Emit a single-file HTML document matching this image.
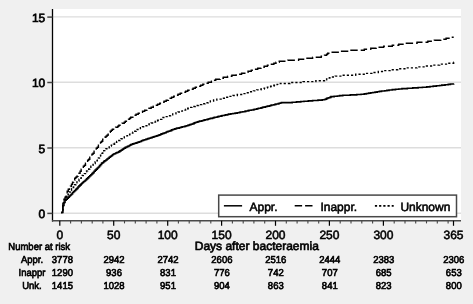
<!DOCTYPE html>
<html><head><meta charset="utf-8"><title>Cumulative mortality</title>
<style>
html,body{margin:0;padding:0;background:#f0f0f0;}
body{width:473px;height:304px;overflow:hidden;}
svg{display:block;text-rendering:geometricPrecision;font-family:"Liberation Sans",sans-serif;fill:#000;}
.ax{font-size:12px;stroke:#000;stroke-width:0.55px;}
.tb{font-size:9.5px;stroke:#000;stroke-width:0.6px;}
</style></head><body>
<svg width="473" height="304" viewBox="0 0 473 304">
<rect x="0" y="0" width="473" height="304" fill="#f0f0f0"/>
<rect x="52" y="9" width="409" height="211.8" fill="#fff"/>
<line x1="53" x2="461" y1="213.2" y2="213.2" stroke="#dddddd" stroke-width="1.4"/>
<line x1="53" x2="461" y1="147.8" y2="147.8" stroke="#dddddd" stroke-width="1.4"/>
<line x1="53" x2="461" y1="82.3" y2="82.3" stroke="#dddddd" stroke-width="1.4"/>
<line x1="53" x2="461" y1="16.9" y2="16.9" stroke="#dddddd" stroke-width="1.4"/>
<line x1="52.5" x2="52.5" y1="9" y2="221.6" stroke="#000" stroke-width="1.3"/>
<line x1="52" x2="461" y1="220.8" y2="220.8" stroke="#4a4a4a" stroke-width="1.6"/>
<line x1="47.3" x2="52.5" y1="213.4" y2="213.4" stroke="#444" stroke-width="1.5"/>
<text class="ax" x="45.3" y="218.1" text-anchor="end" style="stroke-width:0.7px">0</text>
<line x1="47.3" x2="52.5" y1="148.0" y2="148.0" stroke="#444" stroke-width="1.5"/>
<text class="ax" x="45.3" y="152.7" text-anchor="end" style="stroke-width:0.7px">5</text>
<line x1="47.3" x2="52.5" y1="82.5" y2="82.5" stroke="#444" stroke-width="1.5"/>
<text class="ax" x="45.3" y="87.2" text-anchor="end" style="stroke-width:0.7px">10</text>
<line x1="47.3" x2="52.5" y1="17.1" y2="17.1" stroke="#444" stroke-width="1.5"/>
<text class="ax" x="45.3" y="21.8" text-anchor="end" style="stroke-width:0.7px">15</text>
<line x1="59.8" x2="59.8" y1="220.8" y2="225.8" stroke="#000" stroke-width="1.2"/>
<line x1="70.6" x2="70.6" y1="220.8" y2="223.4" stroke="#444" stroke-width="1.1"/>
<line x1="81.4" x2="81.4" y1="220.8" y2="223.4" stroke="#444" stroke-width="1.1"/>
<line x1="92.2" x2="92.2" y1="220.8" y2="223.4" stroke="#444" stroke-width="1.1"/>
<line x1="102.9" x2="102.9" y1="220.8" y2="223.4" stroke="#444" stroke-width="1.1"/>
<line x1="113.7" x2="113.7" y1="220.8" y2="225.8" stroke="#000" stroke-width="1.2"/>
<line x1="124.5" x2="124.5" y1="220.8" y2="223.4" stroke="#444" stroke-width="1.1"/>
<line x1="135.3" x2="135.3" y1="220.8" y2="223.4" stroke="#444" stroke-width="1.1"/>
<line x1="146.1" x2="146.1" y1="220.8" y2="223.4" stroke="#444" stroke-width="1.1"/>
<line x1="156.9" x2="156.9" y1="220.8" y2="223.4" stroke="#444" stroke-width="1.1"/>
<line x1="167.7" x2="167.7" y1="220.8" y2="225.8" stroke="#000" stroke-width="1.2"/>
<line x1="178.4" x2="178.4" y1="220.8" y2="223.4" stroke="#444" stroke-width="1.1"/>
<line x1="189.2" x2="189.2" y1="220.8" y2="223.4" stroke="#444" stroke-width="1.1"/>
<line x1="200.0" x2="200.0" y1="220.8" y2="223.4" stroke="#444" stroke-width="1.1"/>
<line x1="210.8" x2="210.8" y1="220.8" y2="223.4" stroke="#444" stroke-width="1.1"/>
<line x1="221.6" x2="221.6" y1="220.8" y2="225.8" stroke="#000" stroke-width="1.2"/>
<line x1="232.4" x2="232.4" y1="220.8" y2="223.4" stroke="#444" stroke-width="1.1"/>
<line x1="243.2" x2="243.2" y1="220.8" y2="223.4" stroke="#444" stroke-width="1.1"/>
<line x1="253.9" x2="253.9" y1="220.8" y2="223.4" stroke="#444" stroke-width="1.1"/>
<line x1="264.7" x2="264.7" y1="220.8" y2="223.4" stroke="#444" stroke-width="1.1"/>
<line x1="275.5" x2="275.5" y1="220.8" y2="225.8" stroke="#000" stroke-width="1.2"/>
<line x1="286.3" x2="286.3" y1="220.8" y2="223.4" stroke="#444" stroke-width="1.1"/>
<line x1="297.1" x2="297.1" y1="220.8" y2="223.4" stroke="#444" stroke-width="1.1"/>
<line x1="307.9" x2="307.9" y1="220.8" y2="223.4" stroke="#444" stroke-width="1.1"/>
<line x1="318.7" x2="318.7" y1="220.8" y2="223.4" stroke="#444" stroke-width="1.1"/>
<line x1="329.4" x2="329.4" y1="220.8" y2="225.8" stroke="#000" stroke-width="1.2"/>
<line x1="340.2" x2="340.2" y1="220.8" y2="223.4" stroke="#444" stroke-width="1.1"/>
<line x1="351.0" x2="351.0" y1="220.8" y2="223.4" stroke="#444" stroke-width="1.1"/>
<line x1="361.8" x2="361.8" y1="220.8" y2="223.4" stroke="#444" stroke-width="1.1"/>
<line x1="372.6" x2="372.6" y1="220.8" y2="223.4" stroke="#444" stroke-width="1.1"/>
<line x1="383.4" x2="383.4" y1="220.8" y2="225.8" stroke="#000" stroke-width="1.2"/>
<line x1="394.2" x2="394.2" y1="220.8" y2="223.4" stroke="#444" stroke-width="1.1"/>
<line x1="405.0" x2="405.0" y1="220.8" y2="223.4" stroke="#444" stroke-width="1.1"/>
<line x1="415.7" x2="415.7" y1="220.8" y2="223.4" stroke="#444" stroke-width="1.1"/>
<line x1="426.5" x2="426.5" y1="220.8" y2="223.4" stroke="#444" stroke-width="1.1"/>
<line x1="437.3" x2="437.3" y1="220.8" y2="223.4" stroke="#444" stroke-width="1.1"/>
<line x1="448.1" x2="448.1" y1="220.8" y2="223.4" stroke="#444" stroke-width="1.1"/>
<line x1="453.5" x2="453.5" y1="220.8" y2="225.8" stroke="#000" stroke-width="1.2"/>
<text class="ax" x="59.8" y="239.2" text-anchor="middle">0</text>
<text class="ax" x="113.7" y="239.2" text-anchor="middle">50</text>
<text class="ax" x="167.7" y="239.2" text-anchor="middle">100</text>
<text class="ax" x="221.6" y="239.2" text-anchor="middle">150</text>
<text class="ax" x="275.5" y="239.2" text-anchor="middle">200</text>
<text class="ax" x="329.4" y="239.2" text-anchor="middle">250</text>
<text class="ax" x="383.4" y="239.2" text-anchor="middle">300</text>
<text class="ax" x="453.5" y="239.2" text-anchor="middle">365</text>
<path d="M61.80,213.20 L61.80,212.50 L62.88,212.50 L62.88,205.50 L63.95,205.50 L63.95,202.35 L65.03,202.35 L65.03,200.25 L66.11,200.25 L66.11,199.20 L67.18,199.20 L67.18,198.15 L68.26,198.15 L68.26,197.10 L69.34,197.10 L69.34,196.05 L70.41,196.05 L70.41,195.00 L71.49,195.00 L71.49,193.95 L72.56,193.95 L72.56,192.55 L73.64,192.55 L73.64,191.50 L74.72,191.50 L74.72,190.45 L75.79,190.45 L75.79,189.40 L76.87,189.40 L76.87,188.35 L77.95,188.35 L77.95,186.95 L79.02,186.95 L79.02,185.90 L80.10,185.90 L80.10,184.85 L81.18,184.85 L81.18,183.80 L82.25,183.80 L82.25,182.75 L83.33,182.75 L83.33,181.70 L84.41,181.70 L84.41,181.00 L85.48,181.00 L85.48,179.95 L86.56,179.95 L86.56,178.90 L87.64,178.90 L87.64,177.85 L88.71,177.85 L88.71,176.80 L89.79,176.80 L89.79,175.75 L90.87,175.75 L90.87,174.70 L91.94,174.70 L91.94,173.65 L93.02,173.65 L93.02,172.60 L94.09,172.60 L94.09,171.20 L95.17,171.20 L95.17,170.15 L96.25,170.15 L96.25,169.10 L97.32,169.10 L97.32,168.05 L98.40,168.05 L98.40,167.00 L99.48,167.00 L99.48,165.60 L100.55,165.60 L100.55,164.55 L101.63,164.55 L101.63,163.15 L102.71,163.15 L102.71,162.45 L103.78,162.45 L103.78,161.40 L104.86,161.40 L104.86,160.70 L105.94,160.70 L105.94,160.00 L107.01,160.00 L107.01,158.95 L108.09,158.95 L108.09,158.25 L109.17,158.25 L109.17,157.20 L110.24,157.20 L110.24,156.50 L111.32,156.50 L111.32,155.80 L112.40,155.80 L112.40,154.75 L113.47,154.75 L113.47,154.05 L114.55,154.05 L114.55,153.70 L115.62,153.70 L115.62,153.00 L116.70,153.00 L116.70,152.65 L117.78,152.65 L117.78,152.30 L118.85,152.30 L118.85,151.60 L119.93,151.60 L119.93,150.90 L121.01,150.90 L121.01,150.20 L122.08,150.20 L122.08,149.50 L123.16,149.50 L123.16,148.80 L124.24,148.80 L124.24,148.10 L125.31,148.10 L125.31,147.40 L126.39,147.40 L126.39,147.05 L127.47,147.05 L127.47,146.35 L128.54,146.35 L128.54,146.00 L129.62,146.00 L129.62,145.30 L130.70,145.30 L130.70,144.60 L131.77,144.60 L131.77,144.25 L132.85,144.25 L132.85,143.90 L133.93,143.90 L133.93,143.55 L135.00,143.55 L135.00,143.20 L136.08,143.20 L136.08,142.85 L137.15,142.85 L137.15,142.50 L138.23,142.50 L138.23,142.15 L139.31,142.15 L139.31,141.80 L140.38,141.80 L140.38,141.45 L141.46,141.45 L141.46,140.75 L142.54,140.75 L142.54,140.40 L143.61,140.40 L143.61,140.05 L144.69,140.05 L144.69,139.70 L145.77,139.70 L145.77,139.35 L146.84,139.35 L146.84,139.00 L147.92,139.00 L147.92,138.65 L149.00,138.65 L149.00,138.30 L150.07,138.30 L150.07,137.95 L151.15,137.95 L151.15,137.60 L152.23,137.60 L152.23,137.25 L153.30,137.25 L153.30,136.90 L154.38,136.90 L154.38,136.55 L155.46,136.55 L155.46,136.20 L156.53,136.20 L156.53,135.85 L157.61,135.85 L157.61,135.50 L158.69,135.50 L158.69,135.15 L159.76,135.15 L159.76,134.80 L160.84,134.80 L160.84,134.10 L161.91,134.10 L161.91,133.75 L162.99,133.75 L162.99,133.40 L164.07,133.40 L164.07,133.05 L165.14,133.05 L165.14,132.70 L166.22,132.70 L166.22,132.00 L167.30,132.00 L167.30,131.65 L168.37,131.65 L168.37,131.30 L169.45,131.30 L169.45,130.95 L170.53,130.95 L170.53,130.60 L171.60,130.60 L171.60,129.90 L172.68,129.90 L172.68,129.55 L173.76,129.55 L173.76,129.20 L174.83,129.20 L174.83,128.85 L175.91,128.85 L175.91,128.50 L176.99,128.50 L176.99,128.15 L179.14,128.15 L179.14,127.80 L180.22,127.80 L180.22,127.45 L181.29,127.45 L181.29,127.10 L182.37,127.10 L182.37,126.75 L184.52,126.75 L184.52,126.40 L185.60,126.40 L185.60,126.05 L186.67,126.05 L186.67,125.70 L187.75,125.70 L187.75,125.35 L188.83,125.35 L188.83,125.00 L189.90,125.00 L189.90,124.65 L190.98,124.65 L190.98,124.30 L192.06,124.30 L192.06,123.95 L193.13,123.95 L193.13,123.60 L194.21,123.60 L194.21,122.90 L195.29,122.90 L195.29,122.55 L196.36,122.55 L196.36,122.20 L197.44,122.20 L197.44,121.85 L198.52,121.85 L198.52,121.50 L199.59,121.50 L199.59,121.15 L201.75,121.15 L201.75,120.80 L202.82,120.80 L202.82,120.45 L203.90,120.45 L203.90,120.10 L204.97,120.10 L204.97,119.75 L207.13,119.75 L207.13,119.40 L208.20,119.40 L208.20,119.05 L209.28,119.05 L209.28,118.70 L210.36,118.70 L210.36,118.35 L212.51,118.35 L212.51,118.00 L213.59,118.00 L213.59,117.65 L214.66,117.65 L214.66,117.30 L216.82,117.30 L216.82,116.95 L217.89,116.95 L217.89,116.60 L218.97,116.60 L218.97,116.25 L221.12,116.25 L221.12,115.90 L222.20,115.90 L222.20,115.55 L224.35,115.55 L224.35,115.20 L225.43,115.20 L225.43,114.85 L227.58,114.85 L227.58,114.50 L228.66,114.50 L228.66,114.15 L230.81,114.15 L230.81,113.80 L232.96,113.80 L232.96,113.45 L235.12,113.45 L235.12,113.10 L237.27,113.10 L237.27,112.75 L239.42,112.75 L239.42,112.40 L240.50,112.40 L240.50,112.05 L242.65,112.05 L242.65,111.70 L244.81,111.70 L244.81,111.35 L245.88,111.35 L245.88,111.00 L248.03,111.00 L248.03,110.65 L249.11,110.65 L249.11,110.30 L251.26,110.30 L251.26,109.95 L253.42,109.95 L253.42,109.60 L254.49,109.60 L254.49,109.25 L256.65,109.25 L256.65,108.90 L257.72,108.90 L257.72,108.55 L258.80,108.55 L258.80,108.20 L260.95,108.20 L260.95,107.85 L262.03,107.85 L262.03,107.50 L263.11,107.50 L263.11,107.15 L265.26,107.15 L265.26,106.80 L266.34,106.80 L266.34,106.45 L267.41,106.45 L267.41,106.10 L269.56,106.10 L269.56,105.75 L270.64,105.75 L270.64,105.40 L271.72,105.40 L271.72,105.05 L273.87,105.05 L273.87,104.70 L274.95,104.70 L274.95,104.35 L276.02,104.35 L276.02,104.00 L278.18,104.00 L278.18,103.65 L279.25,103.65 L279.25,103.30 L280.33,103.30 L280.33,102.95 L281.41,102.95 L281.41,102.60 L292.17,102.60 L292.17,102.25 L296.48,102.25 L296.48,101.90 L300.78,101.90 L300.78,101.55 L304.01,101.55 L304.01,101.20 L308.32,101.20 L308.32,100.85 L312.62,100.85 L312.62,100.50 L318.01,100.50 L318.01,100.15 L322.31,100.15 L322.31,99.80 L324.47,99.80 L324.47,99.45 L325.54,99.45 L325.54,99.10 L326.62,99.10 L326.62,98.40 L327.70,98.40 L327.70,98.05 L328.77,98.05 L328.77,97.70 L329.85,97.70 L329.85,97.35 L330.93,97.35 L330.93,96.65 L334.15,96.65 L334.15,96.30 L337.38,96.30 L337.38,95.95 L339.54,95.95 L339.54,95.60 L342.77,95.60 L342.77,95.25 L350.30,95.25 L350.30,94.90 L356.76,94.90 L356.76,94.55 L361.07,94.55 L361.07,94.20 L364.30,94.20 L364.30,93.85 L366.45,93.85 L366.45,93.50 L368.60,93.50 L368.60,93.15 L370.76,93.15 L370.76,92.80 L372.91,92.80 L372.91,92.45 L375.06,92.45 L375.06,92.10 L377.21,92.10 L377.21,91.75 L379.37,91.75 L379.37,91.40 L381.52,91.40 L381.52,91.05 L384.75,91.05 L384.75,90.70 L386.90,90.70 L386.90,90.35 L389.06,90.35 L389.06,90.00 L392.29,90.00 L392.29,89.65 L395.52,89.65 L395.52,89.30 L398.74,89.30 L398.74,88.95 L401.97,88.95 L401.97,88.60 L407.36,88.60 L407.36,88.25 L412.74,88.25 L412.74,87.90 L418.12,87.90 L418.12,87.55 L422.43,87.55 L422.43,87.20 L426.73,87.20 L426.73,86.85 L429.96,86.85 L429.96,86.50 L433.19,86.50 L433.19,86.15 L436.42,86.15 L436.42,85.80 L439.65,85.80 L439.65,85.45 L441.80,85.45 L441.80,85.10 L445.03,85.10 L445.03,84.75 L448.26,84.75 L448.26,84.40 L450.42,84.40 L450.42,84.05 L453.65,84.05 L453.65,83.70 L453.70,83.70" fill="none" stroke="#000" stroke-width="1.6" stroke-linejoin="miter"/>
<path d="M453.70,37.20 L451.49,37.20 L451.49,38.20 L446.11,38.20 L446.11,39.20 L440.73,39.20 L440.73,40.20 L434.27,40.20 L434.27,41.20 L427.81,41.20 L427.81,42.20 L417.05,42.20 L417.05,43.20 L405.20,43.20 L405.20,44.20 L398.74,44.20 L398.74,45.20 L392.29,45.20 L392.29,46.20 L383.67,46.20 L383.67,47.20 L376.14,47.20 L376.14,48.20 L370.76,48.20 L370.76,49.20 L364.30,49.20 L364.30,50.20 L349.23,50.20 L349.23,51.20 L340.61,51.20 L340.61,52.20 L329.85,52.20 L329.85,53.20 L327.70,53.20 L327.70,54.20 L326.62,54.20 L326.62,55.20 L324.47,55.20 L324.47,56.20 L321.24,56.20 L321.24,57.20 L312.62,57.20 L312.62,58.20 L305.09,58.20 L305.09,59.20 L298.63,59.20 L298.63,60.20 L287.87,60.20 L287.87,61.20 L279.25,61.20 L279.25,62.20 L276.02,62.20 L276.02,63.20 L273.87,63.20 L273.87,64.20 L270.64,64.20 L270.64,65.20 L267.41,65.20 L267.41,66.20 L264.18,66.20 L264.18,67.20 L260.95,67.20 L260.95,68.20 L257.72,68.20 L257.72,69.20 L254.49,69.20 L254.49,70.20 L251.26,70.20 L251.26,71.20 L248.03,71.20 L248.03,72.20 L244.81,72.20 L244.81,73.20 L241.58,73.20 L241.58,74.20 L236.19,74.20 L236.19,75.20 L231.89,75.20 L231.89,76.20 L227.58,76.20 L227.58,77.20 L223.28,77.20 L223.28,78.20 L220.05,78.20 L220.05,79.20 L215.74,79.20 L215.74,80.20 L213.59,80.20 L213.59,81.20 L211.43,81.20 L211.43,82.20 L208.20,82.20 L208.20,83.20 L206.05,83.20 L206.05,84.20 L202.82,84.20 L202.82,85.20 L200.67,85.20 L200.67,86.20 L198.52,86.20 L198.52,87.20 L195.29,87.20 L195.29,88.20 L193.13,88.20 L193.13,89.20 L190.98,89.20 L190.98,90.20 L187.75,90.20 L187.75,91.20 L185.60,91.20 L185.60,92.20 L183.44,92.20 L183.44,93.20 L180.22,93.20 L180.22,94.20 L178.06,94.20 L178.06,95.20 L175.91,95.20 L175.91,96.20 L173.76,96.20 L173.76,97.20 L171.60,97.20 L171.60,98.20 L169.45,98.20 L169.45,99.20 L168.37,99.20 L168.37,100.20 L166.22,100.20 L166.22,101.20 L164.07,101.20 L164.07,102.20 L161.91,102.20 L161.91,103.20 L159.76,103.20 L159.76,104.20 L157.61,104.20 L157.61,105.20 L155.46,105.20 L155.46,106.20 L153.30,106.20 L153.30,107.20 L151.15,107.20 L151.15,108.20 L149.00,108.20 L149.00,109.20 L146.84,109.20 L146.84,110.20 L144.69,110.20 L144.69,111.20 L142.54,111.20 L142.54,112.20 L140.38,112.20 L140.38,113.20 L138.23,113.20 L138.23,114.20 L136.08,114.20 L136.08,115.20 L133.93,115.20 L133.93,116.20 L132.85,116.20 L132.85,117.20 L130.70,117.20 L130.70,118.20 L129.62,118.20 L129.62,119.20 L128.54,119.20 L128.54,120.20 L126.39,120.20 L126.39,121.20 L125.31,121.20 L125.31,122.20 L124.24,122.20 L124.24,123.20 L122.08,123.20 L122.08,124.20 L121.01,124.20 L121.01,125.20 L118.85,125.20 L118.85,126.20 L117.78,126.20 L117.78,127.20 L115.62,127.20 L115.62,128.20 L114.55,128.20 L114.55,129.20 L112.40,129.20 L112.40,130.20 L111.32,130.20 L111.32,131.20 L110.24,131.20 L110.24,132.20 L109.17,132.20 L109.17,134.20 L108.09,134.20 L108.09,135.20 L107.01,135.20 L107.01,136.20 L105.94,136.20 L105.94,137.20 L104.86,137.20 L104.86,138.20 L103.78,138.20 L103.78,139.20 L102.71,139.20 L102.71,141.20 L101.63,141.20 L101.63,142.20 L100.55,142.20 L100.55,144.20 L99.48,144.20 L99.48,145.20 L98.40,145.20 L98.40,147.20 L97.32,147.20 L97.32,148.20 L96.25,148.20 L96.25,150.20 L95.17,150.20 L95.17,151.20 L94.09,151.20 L94.09,153.20 L93.02,153.20 L93.02,154.20 L91.94,154.20 L91.94,156.20 L90.87,156.20 L90.87,157.20 L89.79,157.20 L89.79,159.20 L88.71,159.20 L88.71,160.20 L87.64,160.20 L87.64,162.20 L86.56,162.20 L86.56,163.20 L85.48,163.20 L85.48,165.20 L84.41,165.20 L84.41,166.20 L83.33,166.20 L83.33,168.20 L82.25,168.20 L82.25,169.20 L81.18,169.20 L81.18,171.20 L80.10,171.20 L80.10,173.20 L79.02,173.20 L79.02,174.20 L77.95,174.20 L77.95,176.20 L76.87,176.20 L76.87,177.20 L75.79,177.20 L75.79,178.20 L74.72,178.20 L74.72,180.20 L73.64,180.20 L73.64,182.20 L72.56,182.20 L72.56,184.20 L71.49,184.20 L71.49,186.20 L70.41,186.20 L70.41,187.20 L69.34,187.20 L69.34,189.20 L68.26,189.20 L68.26,191.20 L67.18,191.20 L67.18,194.20 L66.11,194.20 L66.11,197.20 L65.03,197.20 L65.03,199.20 L63.95,199.20 L63.95,201.20 L62.88,201.20 L62.88,209.20 L61.80,209.20 L61.80,213.20" fill="none" stroke="#000" stroke-width="1.4" stroke-dasharray="7.4 3" stroke-dashoffset="5.4" stroke-linejoin="miter"/>
<path d="M453.70,62.32 L453.65,62.32 L453.65,63.24 L447.19,63.24 L447.19,64.16 L439.65,64.16 L439.65,65.08 L433.19,65.08 L433.19,66.00 L425.66,66.00 L425.66,66.92 L417.05,66.92 L417.05,67.84 L407.36,67.84 L407.36,68.76 L397.67,68.76 L397.67,69.68 L390.13,69.68 L390.13,70.60 L383.67,70.60 L383.67,71.52 L378.29,71.52 L378.29,72.44 L371.83,72.44 L371.83,73.36 L365.37,73.36 L365.37,74.28 L355.68,74.28 L355.68,75.20 L341.69,75.20 L341.69,76.12 L335.23,76.12 L335.23,77.04 L329.85,77.04 L329.85,77.96 L327.70,77.96 L327.70,78.88 L326.62,78.88 L326.62,79.80 L324.47,79.80 L324.47,80.72 L315.85,80.72 L315.85,81.64 L302.94,81.64 L302.94,82.56 L290.02,82.56 L290.02,83.48 L280.33,83.48 L280.33,84.40 L277.10,84.40 L277.10,85.32 L273.87,85.32 L273.87,86.24 L270.64,86.24 L270.64,87.16 L267.41,87.16 L267.41,88.08 L264.18,88.08 L264.18,89.00 L260.95,89.00 L260.95,89.92 L256.65,89.92 L256.65,90.84 L253.42,90.84 L253.42,91.76 L249.11,91.76 L249.11,92.68 L245.88,92.68 L245.88,93.60 L242.65,93.60 L242.65,94.52 L237.27,94.52 L237.27,95.44 L232.96,95.44 L232.96,96.36 L228.66,96.36 L228.66,97.28 L224.35,97.28 L224.35,98.20 L221.12,98.20 L221.12,99.12 L216.82,99.12 L216.82,100.04 L213.59,100.04 L213.59,100.96 L210.36,100.96 L210.36,101.88 L208.20,101.88 L208.20,102.80 L204.97,102.80 L204.97,103.72 L201.75,103.72 L201.75,104.64 L198.52,104.64 L198.52,105.56 L195.29,105.56 L195.29,106.48 L192.06,106.48 L192.06,107.40 L189.90,107.40 L189.90,108.32 L187.75,108.32 L187.75,109.24 L185.60,109.24 L185.60,110.16 L182.37,110.16 L182.37,111.08 L180.22,111.08 L180.22,112.00 L178.06,112.00 L178.06,112.92 L175.91,112.92 L175.91,113.84 L172.68,113.84 L172.68,114.76 L170.53,114.76 L170.53,115.68 L168.37,115.68 L168.37,116.60 L165.14,116.60 L165.14,117.52 L162.99,117.52 L162.99,118.44 L161.91,118.44 L161.91,119.36 L159.76,119.36 L159.76,120.28 L157.61,120.28 L157.61,121.20 L155.46,121.20 L155.46,122.12 L153.30,122.12 L153.30,123.04 L151.15,123.04 L151.15,123.96 L149.00,123.96 L149.00,124.88 L146.84,124.88 L146.84,125.80 L144.69,125.80 L144.69,126.72 L142.54,126.72 L142.54,127.64 L140.38,127.64 L140.38,128.56 L139.31,128.56 L139.31,129.48 L137.15,129.48 L137.15,130.40 L136.08,130.40 L136.08,131.32 L133.93,131.32 L133.93,132.24 L132.85,132.24 L132.85,133.16 L130.70,133.16 L130.70,134.08 L129.62,134.08 L129.62,135.00 L127.47,135.00 L127.47,135.92 L125.31,135.92 L125.31,136.84 L124.24,136.84 L124.24,137.76 L122.08,137.76 L122.08,138.68 L121.01,138.68 L121.01,139.60 L119.93,139.60 L119.93,140.52 L117.78,140.52 L117.78,141.44 L116.70,141.44 L116.70,142.36 L115.62,142.36 L115.62,143.28 L114.55,143.28 L114.55,144.20 L113.47,144.20 L113.47,145.12 L111.32,145.12 L111.32,146.04 L110.24,146.04 L110.24,146.96 L109.17,146.96 L109.17,147.88 L108.09,147.88 L108.09,148.80 L105.94,148.80 L105.94,149.72 L104.86,149.72 L104.86,150.64 L103.78,150.64 L103.78,151.56 L102.71,151.56 L102.71,153.40 L101.63,153.40 L101.63,155.24 L100.55,155.24 L100.55,156.16 L99.48,156.16 L99.48,158.00 L98.40,158.00 L98.40,158.92 L97.32,158.92 L97.32,160.76 L96.25,160.76 L96.25,161.68 L95.17,161.68 L95.17,163.52 L94.09,163.52 L94.09,164.44 L93.02,164.44 L93.02,165.36 L91.94,165.36 L91.94,166.28 L90.87,166.28 L90.87,168.12 L89.79,168.12 L89.79,169.04 L88.71,169.04 L88.71,169.96 L87.64,169.96 L87.64,170.88 L86.56,170.88 L86.56,171.80 L85.48,171.80 L85.48,173.64 L84.41,173.64 L84.41,174.56 L83.33,174.56 L83.33,175.48 L82.25,175.48 L82.25,176.40 L81.18,176.40 L81.18,178.24 L80.10,178.24 L80.10,179.16 L79.02,179.16 L79.02,181.00 L77.95,181.00 L77.95,181.92 L76.87,181.92 L76.87,182.84 L75.79,182.84 L75.79,184.68 L74.72,184.68 L74.72,185.60 L73.64,185.60 L73.64,187.44 L72.56,187.44 L72.56,188.36 L71.49,188.36 L71.49,190.20 L70.41,190.20 L70.41,192.04 L69.34,192.04 L69.34,192.96 L68.26,192.96 L68.26,194.80 L67.18,194.80 L67.18,196.64 L66.11,196.64 L66.11,198.48 L65.03,198.48 L65.03,200.32 L63.95,200.32 L63.95,203.08 L62.88,203.08 L62.88,212.28 L61.80,212.28 L61.80,213.20" fill="none" stroke="#000" stroke-width="1.4" stroke-dasharray="2.2 2.0" stroke-linejoin="miter"/>
<rect x="218.7" y="195.1" width="237.8" height="21.6" fill="#fff" stroke="#484848" stroke-width="1.5"/>
<line x1="223.9" x2="242.1" y1="205.8" y2="205.8" stroke="#000" stroke-width="1.5"/>
<text class="ax" x="249.5" y="210.7">Appr.</text>
<line x1="294.7" x2="312.5" y1="205.8" y2="205.8" stroke="#000" stroke-width="1.5" stroke-dasharray="7.4 3"/>
<text class="ax" x="320.4" y="210.7">Inappr.</text>
<line x1="374.9" x2="393.7" y1="205.8" y2="205.8" stroke="#000" stroke-width="1.7" stroke-dasharray="2.2 2.0"/>
<text class="ax" x="400.4" y="210.7" textLength="49.9" lengthAdjust="spacingAndGlyphs">Unknown</text>
<text class="ax" x="256.8" y="250.3" text-anchor="middle" style="stroke-width:0.65px">Days after bacteraemia</text>
<g transform="scale(1,1.06)">
<text class="tb" x="8.3" y="235.94">Number at risk</text>
<text class="tb" x="32" y="247.74" text-anchor="middle">Appr.</text>
<text class="tb" x="62.4" y="247.74" text-anchor="middle">3778</text>
<text class="tb" x="114.0" y="247.74" text-anchor="middle">2942</text>
<text class="tb" x="168.0" y="247.74" text-anchor="middle">2742</text>
<text class="tb" x="221.9" y="247.74" text-anchor="middle">2606</text>
<text class="tb" x="275.8" y="247.74" text-anchor="middle">2516</text>
<text class="tb" x="329.8" y="247.74" text-anchor="middle">2444</text>
<text class="tb" x="383.7" y="247.74" text-anchor="middle">2383</text>
<text class="tb" x="453.8" y="247.74" text-anchor="middle">2306</text>
<text class="tb" x="32" y="260.05" text-anchor="middle">Inappr</text>
<text class="tb" x="62.4" y="260.05" text-anchor="middle">1290</text>
<text class="tb" x="114.0" y="260.05" text-anchor="middle">936</text>
<text class="tb" x="168.0" y="260.05" text-anchor="middle">831</text>
<text class="tb" x="221.9" y="260.05" text-anchor="middle">776</text>
<text class="tb" x="275.8" y="260.05" text-anchor="middle">742</text>
<text class="tb" x="329.8" y="260.05" text-anchor="middle">707</text>
<text class="tb" x="383.7" y="260.05" text-anchor="middle">685</text>
<text class="tb" x="453.8" y="260.05" text-anchor="middle">653</text>
<text class="tb" x="32" y="272.36" text-anchor="middle">Unk.</text>
<text class="tb" x="62.4" y="272.36" text-anchor="middle">1415</text>
<text class="tb" x="114.0" y="272.36" text-anchor="middle">1028</text>
<text class="tb" x="168.0" y="272.36" text-anchor="middle">951</text>
<text class="tb" x="221.9" y="272.36" text-anchor="middle">904</text>
<text class="tb" x="275.8" y="272.36" text-anchor="middle">863</text>
<text class="tb" x="329.8" y="272.36" text-anchor="middle">841</text>
<text class="tb" x="383.7" y="272.36" text-anchor="middle">823</text>
<text class="tb" x="453.8" y="272.36" text-anchor="middle">800</text>
</g>
</svg></body></html>
